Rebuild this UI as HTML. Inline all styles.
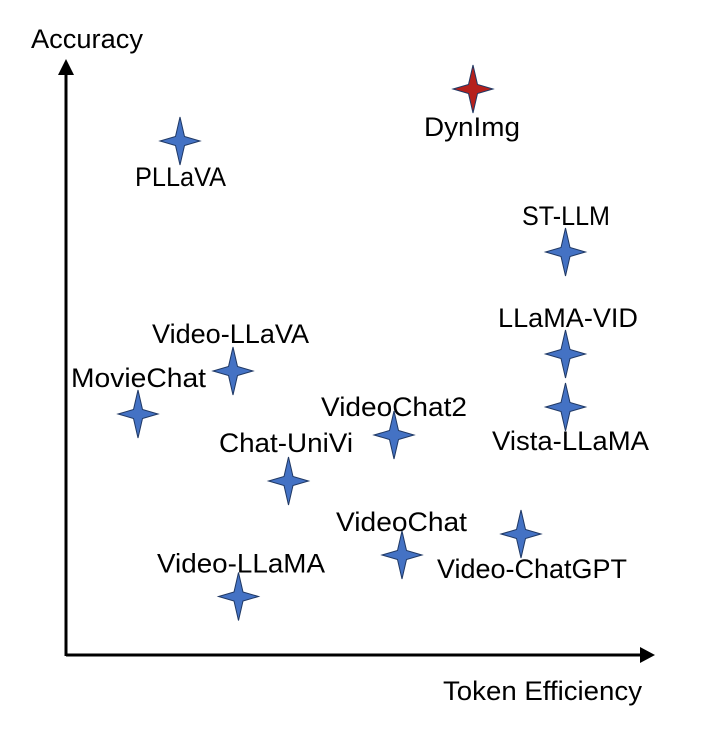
<!DOCTYPE html>
<html><head><meta charset="utf-8"><style>
html,body{margin:0;padding:0;background:#fff}
svg{display:block}
text{font-family:"Liberation Sans",sans-serif;font-size:27px;fill:#000}
.s{fill:#4472c4;stroke:#1f3864;stroke-width:1}
</style></head><body>
<svg width="712" height="732" viewBox="0 0 712 732" xmlns="http://www.w3.org/2000/svg">
<defs><path id="st" d="M0,-24 L4.5,-4.5 L20,0 L4.5,4.5 L0,24 L-4.5,4.5 L-20,0 L-4.5,-4.5 Z"/></defs>
<path d="M66,656 V72 M66,655 H642" fill="none" stroke="#000" stroke-width="3"/>
<path d="M66,59 L74,75 L58,75 Z M655,655 L640,647 L640,663 Z" fill="#000"/>
<use href="#st" x="473" y="89" fill="#b5201c" stroke="#1f3864" stroke-width="1"/>
<use href="#st" class="s" x="180" y="141"/>
<use href="#st" class="s" x="565.5" y="252"/>
<use href="#st" class="s" x="565.5" y="354"/>
<use href="#st" class="s" x="565.5" y="407"/>
<use href="#st" class="s" x="233" y="371"/>
<use href="#st" class="s" x="138" y="414"/>
<use href="#st" class="s" x="394" y="435"/>
<use href="#st" class="s" x="288.5" y="481"/>
<use href="#st" class="s" x="521" y="534"/>
<use href="#st" class="s" x="402" y="555"/>
<use href="#st" class="s" x="238.5" y="596.5"/>
<text x="31" y="48" textLength="112" lengthAdjust="spacingAndGlyphs">Accuracy</text>
<text x="424" y="136" textLength="96" lengthAdjust="spacingAndGlyphs">DynImg</text>
<text x="135" y="186" textLength="91" lengthAdjust="spacingAndGlyphs">PLLaVA</text>
<text x="522" y="225" textLength="88" lengthAdjust="spacingAndGlyphs">ST-LLM</text>
<text x="498" y="327" textLength="140" lengthAdjust="spacingAndGlyphs">LLaMA-VID</text>
<text x="152" y="343" textLength="157" lengthAdjust="spacingAndGlyphs">Video-LLaVA</text>
<text x="71" y="387" textLength="135" lengthAdjust="spacingAndGlyphs">MovieChat</text>
<text x="321" y="416" textLength="146" lengthAdjust="spacingAndGlyphs">VideoChat2</text>
<text x="219" y="452" textLength="134" lengthAdjust="spacingAndGlyphs">Chat-UniVi</text>
<text x="492" y="450" textLength="157" lengthAdjust="spacingAndGlyphs">Vista-LLaMA</text>
<text x="336" y="531" textLength="131" lengthAdjust="spacingAndGlyphs">VideoChat</text>
<text x="157" y="572.5" textLength="168" lengthAdjust="spacingAndGlyphs">Video-LLaMA</text>
<text x="437" y="578" textLength="190" lengthAdjust="spacingAndGlyphs">Video-ChatGPT</text>
<text x="443" y="700" textLength="199" lengthAdjust="spacingAndGlyphs">Token Efficiency</text>
</svg>
</body></html>
